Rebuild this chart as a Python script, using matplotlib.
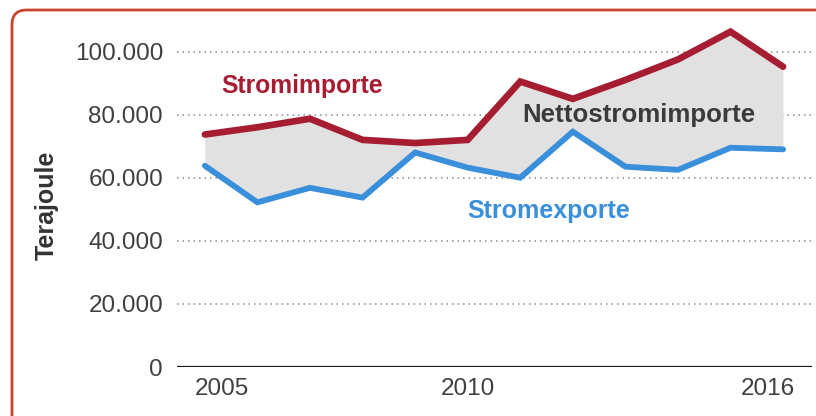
import matplotlib
matplotlib.use("Agg")
import matplotlib.pyplot as plt
from matplotlib.patches import FancyBboxPatch
from matplotlib.ticker import FuncFormatter

plt.rcParams["font.family"] = ["Liberation Sans", "DejaVu Sans"]

# Electricity trade in Terajoule
years = [2005, 2006, 2007, 2008, 2009, 2010, 2011, 2012, 2013, 2014, 2015, 2016]
imports = [73700, 76000, 78700, 72000, 71000, 72000, 90500, 85000, 91000, 97500, 106300, 95200]
exports = [63800, 52200, 56800, 53700, 68000, 63200, 60000, 74600, 63500, 62500, 69500, 69000]

y_ticks = [0, 20000, 40000, 60000, 80000, 100000]
x_tick_labels = ["2005", "2010", "2016"]
x_tick_years = [2005, 2010, 2016]

RED = "#a61d31"
BLUE = "#3a8fdb"
GREY_TEXT = "#3a3a3a"
FILL = "#e1e1e1"

fig = plt.figure(figsize=(8.16, 4.16), dpi=100)
ax = fig.add_axes([177 / 816, (416 - 367) / 416, (812 - 177) / 816, (367 - 20) / 416])

ax.fill_between(years, exports, imports, color=FILL, lw=0, zorder=1)
ax.plot(years, imports, color=RED, lw=4.8, solid_capstyle="round", solid_joinstyle="miter", zorder=3)
ax.plot(years, exports, color=BLUE, lw=4.2, solid_capstyle="round", solid_joinstyle="miter", zorder=3)

ax.set_xlim(2004.47, 2016.55)
ax.set_ylim(0, 110000)

# dotted horizontal grid, solid baseline at zero
for v in y_ticks[1:]:
    ax.axhline(v, color="#8a8a8a", lw=1.1, ls=(0, (1, 2.6)), zorder=0)
ax.axhline(0, color="#1a1a1a", lw=1.6, zorder=2)

for s in ax.spines.values():
    s.set_visible(False)

ax.set_yticks(y_ticks)
ax.yaxis.set_major_formatter(FuncFormatter(lambda v, p: f"{int(v):,}".replace(",", ".")))
ax.tick_params(axis="y", length=0, pad=10, labelsize=17.5, labelcolor="#3f3f3f")

# year labels sit slightly off the data columns
label_shift = [0.32, 0.0, -0.29]
ax.set_xticks([y + d for y, d in zip(x_tick_years, label_shift)])
ax.set_xticklabels(x_tick_labels)
ax.tick_params(axis="x", length=0, pad=8, labelsize=17.5, labelcolor="#3f3f3f")

ax.set_ylabel("Terajoule", fontsize=18, fontweight="bold", color="#333333")
ax.yaxis.set_label_coords(-0.187, 0.465)

ax.text(2006.85, 89000, "Stromimporte", color=RED, fontsize=17.8, fontweight="bold",
        ha="center", va="center", zorder=4)
ax.text(2013.25, 80000, "Nettostromimporte", color=GREY_TEXT, fontsize=18.6, fontweight="bold",
        ha="center", va="center", zorder=4)
ax.text(2011.55, 49500, "Stromexporte", color=BLUE, fontsize=18, fontweight="bold",
        ha="center", va="center", zorder=4)

# rounded frame around the whole graphic
frame = FancyBboxPatch((12 / 816, -30 / 416), 840 / 816, 436 / 416,
                       boxstyle="round,pad=0,rounding_size=0.018",
                       transform=fig.transFigure, fill=False, edgecolor="#c9442f",
                       lw=2.0, zorder=10, mutation_aspect=816 / 416)
fig.patches.append(frame)

fig.savefig("out.png", dpi=100)
